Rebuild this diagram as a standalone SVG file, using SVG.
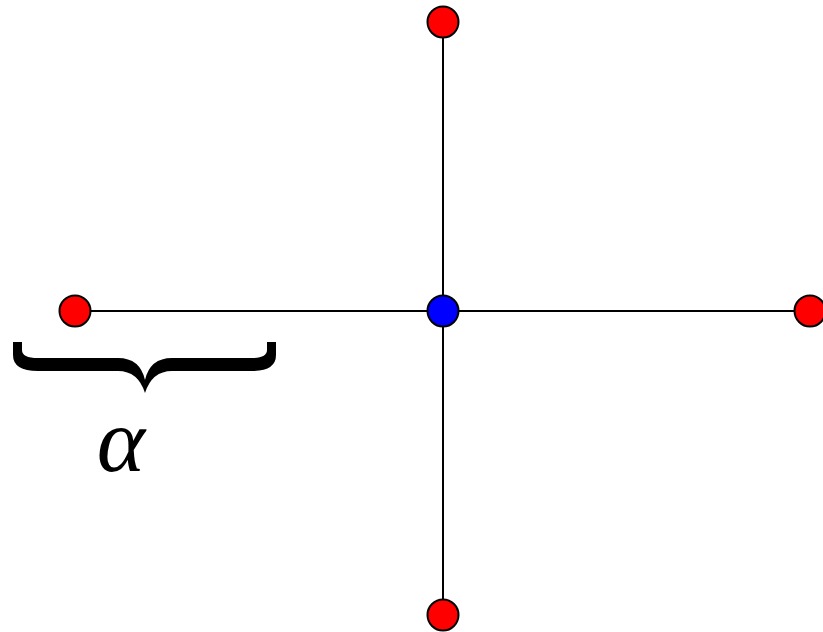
<svg xmlns="http://www.w3.org/2000/svg" width="823" height="632" viewBox="0 0 823 632">
<style>
.edge{stroke:#000;stroke-width:2;fill:none}
.red{fill:#ff0000;stroke:#000;stroke-width:2}
.blue{fill:#0000ff;stroke:#000;stroke-width:2}
.lbl{font-family:"Liberation Serif","DejaVu Serif",serif;font-style:italic;font-size:92px;fill:#000}
</style>
<rect width="823" height="632" fill="#fff"/>
<g id="connectors">
<line class="edge" x1="75" y1="311" x2="810" y2="311"/>
<line class="edge" x1="443" y1="22" x2="443" y2="615"/>
</g>
<g id="node-top"><circle class="red" cx="443" cy="22" r="15.5"/></g>
<g id="node-left"><circle class="red" cx="75" cy="311" r="15.5"/></g>
<g id="node-right"><circle class="red" cx="810" cy="311" r="15.5"/></g>
<g id="node-bottom"><circle class="red" cx="443" cy="615" r="15.5"/></g>
<g id="node-center"><circle class="blue" cx="443" cy="311" r="15.5"/></g>
<g id="brace">
<path fill="#000" d="M 13 342 L 22 342 L 22 350 Q 22 358 38 358 L 118 358 Q 140 358 145 380 Q 150 358 172 358 L 252 358 Q 267 358 267 350 L 267 342 L 276 342 L 276 355 Q 276 371 252 371 L 172 371 Q 152 371 145 393 Q 138 371 118 371 L 38 371 Q 13 371 13 355 Z"/>
<text class="lbl" x="121" y="471" text-anchor="middle">α</text>
</g>
</svg>
